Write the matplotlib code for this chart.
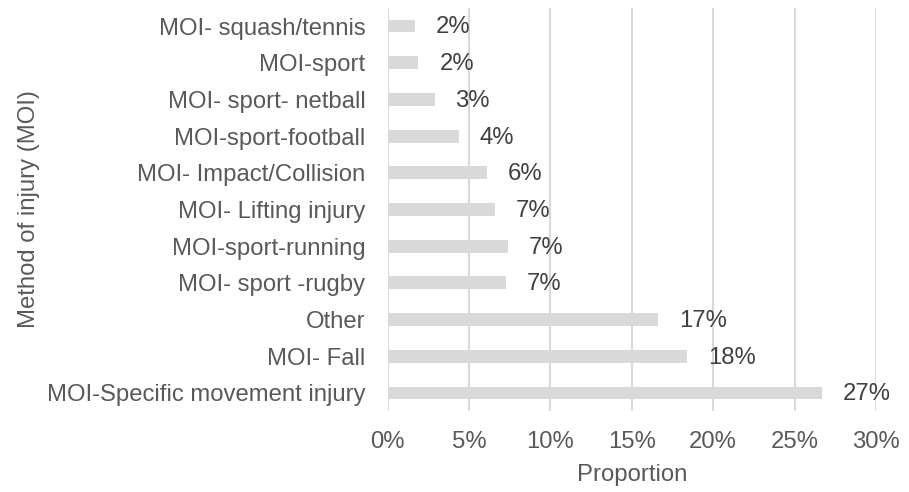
import matplotlib
matplotlib.use("Agg")
import matplotlib.pyplot as plt
import numpy as np

plt.rcParams['font.family'] = ['Liberation Sans', 'DejaVu Sans']

# bottom to top
categories = [
    "MOI-Specific movement injury",
    "MOI- Fall",
    "Other",
    "MOI- sport -rugby",
    "MOI-sport-running",
    "MOI- Lifting injury",
    "MOI- Impact/Collision",
    "MOI-sport-football",
    "MOI- sport- netball",
    "MOI-sport",
    "MOI- squash/tennis",
]
proportion = [26.7, 18.4, 16.6, 7.3, 7.4, 6.6, 6.1, 4.4, 2.9, 1.9, 1.7]
xticks = [0, 5, 10, 15, 20, 25, 30]

TEXT = "#404040"
TICK = "#595959"
GREY = "#d9d9d9"
FS = 17.2

fig = plt.figure(figsize=(9.09, 4.92), dpi=100)
ax = fig.add_axes([0.4263, 0.164, 0.5374, 0.8203])

y = np.arange(len(categories))
ax.barh(y, proportion, height=0.35, color=GREY, zorder=2)
for yi, v in zip(y, proportion):
    ax.annotate("{:.0f}%".format(v), (v, yi), xytext=(15, -1), textcoords="offset points",
                ha="left", va="center", fontsize=FS, color=TEXT)

ax.set_xlim(0, 30)
ax.set_ylim(-0.5, len(categories) - 0.5)
ax.set_xticks(xticks)
ax.set_xticklabels(["{}%".format(t) for t in xticks])
ax.set_yticks(y)
ax.set_yticklabels(categories)
ax.grid(axis="x", color=GREY, linewidth=1.5, zorder=0)
ax.set_axisbelow(True)
for s in ax.spines.values():
    s.set_visible(False)
ax.tick_params(axis="y", length=0, labelsize=FS, labelcolor=TICK, pad=16)
ax.tick_params(axis="x", length=0, labelsize=FS, labelcolor=TICK, pad=14)
ax.set_xlabel("Proportion", fontsize=FS, color=TICK, labelpad=8)
ax.set_ylabel("Method of injury (MOI)", fontsize=FS, color=TICK, labelpad=5)

fig.savefig("out.png", dpi=100)
